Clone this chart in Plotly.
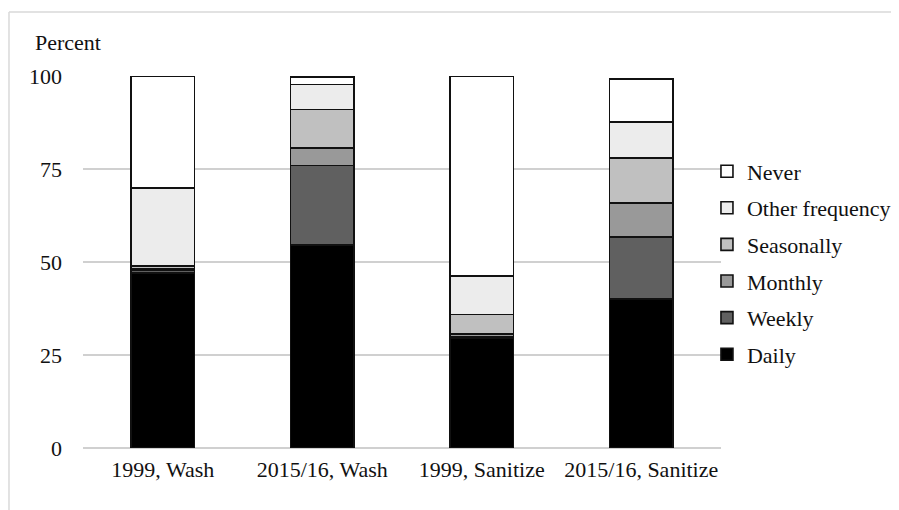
import plotly.graph_objects as go

categories = ["1999, Wash", "2015/16, Wash", "1999, Sanitize", "2015/16, Sanitize"]
daily = [47.0, 54.5, 29.5, 40.1]
weekly = [0.7, 21.4, 0.5, 16.6]
monthly = [0.5, 4.8, 0.6, 9.2]
seasonally = [0.7, 10.3, 5.3, 12.1]
other_frequency = [21.0, 6.7, 10.4, 9.6]
never = [30.1, 2.0, 53.7, 11.6]

series = [
    ("Daily", daily, "#000000"),
    ("Weekly", weekly, "#606060"),
    ("Monthly", monthly, "#999999"),
    ("Seasonally", seasonally, "#c0c0c0"),
    ("Other frequency", other_frequency, "#ececec"),
    ("Never", never, "#ffffff"),
]

FONT = "Liberation Serif, Times New Roman, serif"

fig = go.Figure()
n = len(series)
for i, (name, vals, color) in enumerate(series):
    fig.add_trace(go.Bar(
        x=categories, y=vals, name=name, legendgroup=name,
        legendrank=n - i,
        marker=dict(color=color, line=dict(color="#111111", width=1.6)),
    ))

fig.update_layout(
    width=891, height=502,
    barmode="stack", bargap=0.6,
    paper_bgcolor="white", plot_bgcolor="white",
    margin=dict(l=75, r=178, t=68, b=62, autoexpand=False),
    font=dict(family=FONT, size=22, color="#111111"),
    legend=dict(
        x=0.978, xanchor="left", y=0.80, yanchor="top",
        traceorder="grouped", tracegroupgap=5,
        font=dict(family=FONT, size=22, color="#111111"),
        itemwidth=30, bgcolor="rgba(0,0,0,0)",
    ),
    xaxis=dict(showgrid=False, showline=False, ticks="", ticklabelstandoff=6,
               tickfont=dict(family=FONT, size=22)),
    yaxis=dict(range=[0, 100], tickvals=[0, 25, 50, 75, 100],
               showgrid=True, gridcolor="#d0d0d0", gridwidth=1.5,
               zeroline=True, zerolinecolor="#d0d0d0", zerolinewidth=1.5,
               showline=False, ticks="", ticklabelstandoff=20,
               tickfont=dict(family=FONT, size=22)),
    annotations=[dict(text="Percent", xref="paper", yref="paper",
                      x=-0.078, y=1.091, xanchor="left", yanchor="middle",
                      showarrow=False, font=dict(family=FONT, size=22))],
    shapes=[
        dict(type="line", xref="paper", yref="paper", x0=-0.116, x1=1.35,
             y0=1.172, y1=1.172, line=dict(color="#d9d9d9", width=1.5)),
        dict(type="line", xref="paper", yref="paper", x0=-0.116, x1=-0.116,
             y0=1.172, y1=-0.3, line=dict(color="#d9d9d9", width=1.5)),
    ],
)

fig.write_html("out.html")
